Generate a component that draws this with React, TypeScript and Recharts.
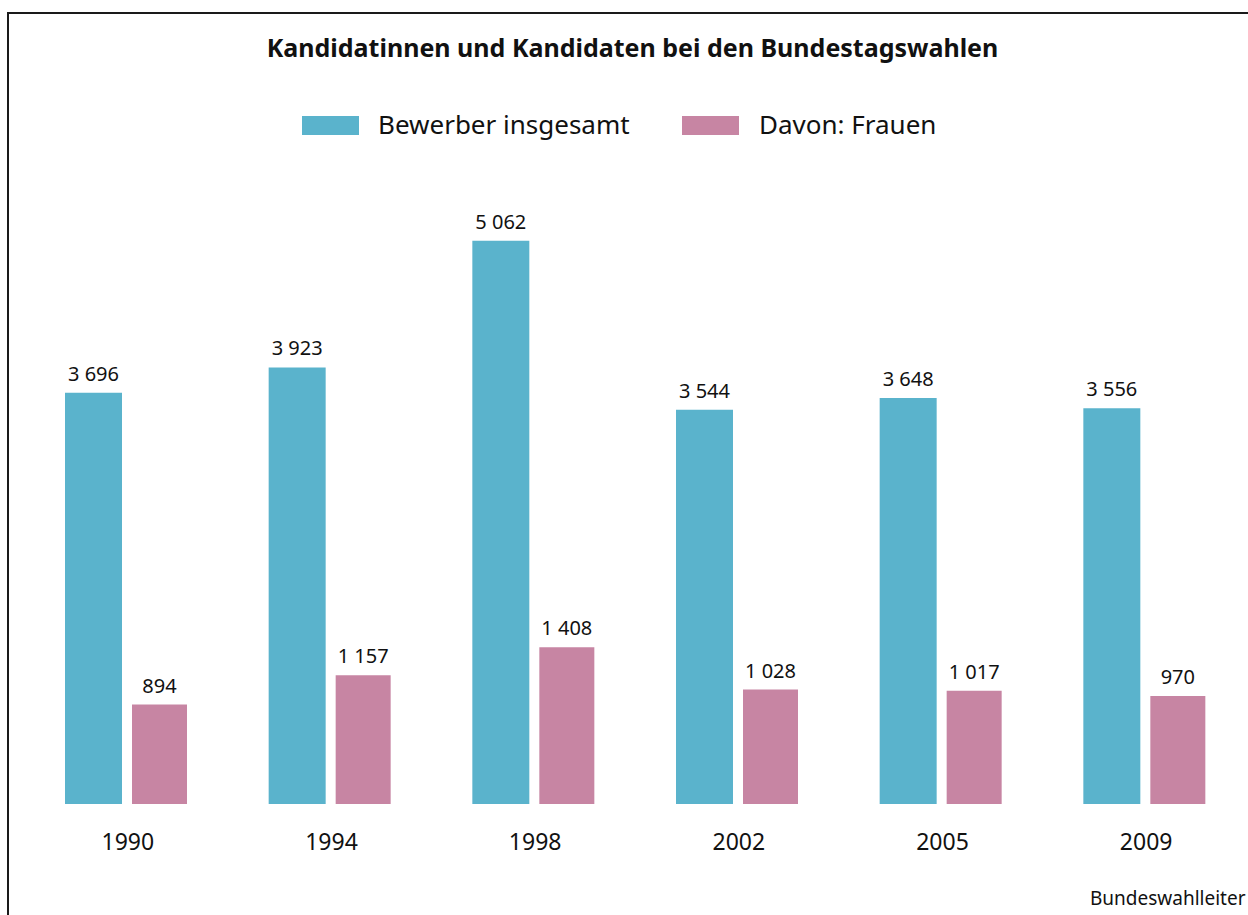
import { BarChart, Bar, XAxis, YAxis, LabelList } from 'recharts';

const years = ['1990', '1994', '1998', '2002', '2005', '2009'];
const bewerber = [3696, 3923, 5062, 3544, 3648, 3556];
const frauen = [894, 1157, 1408, 1028, 1017, 970];

const data = years.map((year, i) => ({
  year,
  bewerber: bewerber[i],
  frauen: frauen[i],
}));

const BLUE = '#5ab3cc';
const PINK = '#c785a3';
const FONT = '"Noto Sans", sans-serif';

const fmt = (v: any) => String(v).replace(/\B(?=(\d{3})+(?!\d))/g, ' ');

export default function App() {
  return (
    <div
      style={{
        position: 'absolute',
        left: 0,
        top: 0,
        width: 1248,
        height: 915,
        overflow: 'hidden',
        background: '#fff',
        fontFamily: FONT,
        color: '#111',
      }}
    >
      <div
        style={{
          position: 'absolute',
          left: 7,
          top: 12,
          width: 1300,
          height: 1000,
          border: '2px solid #1a1a1a',
        }}
      />
      <div
        style={{
          position: 'absolute',
          left: 0,
          top: 35,
          width: 1265,
          textAlign: 'center',
          fontSize: 25,
          lineHeight: 1,
          fontWeight: 700,
        }}
      >
        Kandidatinnen und Kandidaten bei den Bundestagswahlen
      </div>
      <div style={{ position: 'absolute', left: 302, top: 116, width: 57, height: 19, background: BLUE }} />
      <div style={{ position: 'absolute', left: 378, top: 111, fontSize: 26, lineHeight: 1 }}>
        Bewerber insgesamt
      </div>
      <div style={{ position: 'absolute', left: 682, top: 116, width: 57, height: 19, background: PINK }} />
      <div style={{ position: 'absolute', left: 759, top: 111, fontSize: 26, lineHeight: 1 }}>
        Davon: Frauen
      </div>
      <div style={{ position: 'absolute', left: 1090, top: 889, fontSize: 19, lineHeight: 1, whiteSpace: 'nowrap' }}>
        Bundeswahlleiter
      </div>
      <div style={{ position: 'absolute', left: 0, top: 0 }}>
        <BarChart
          width={1248}
          height={915}
          data={data}
          margin={{ top: 192, right: 2, left: 24, bottom: 51 }}
          barGap={10}
        >
          <XAxis
            dataKey="year"
            height={60}
            axisLine={false}
            tickLine={false}
            tickSize={0}
            tickMargin={30}
            tick={{ fontSize: 23, fill: '#111', fontFamily: FONT, dx: 2 }}
          />
          <YAxis hide domain={[0, 5500]} />
          <Bar dataKey="bewerber" fill={BLUE} barSize={57} isAnimationActive={false}>
            <LabelList
              dataKey="bewerber"
              position="top"
              offset={12}
              formatter={fmt}
              style={{ fontSize: 20, fill: '#111', fontFamily: FONT }}
            />
          </Bar>
          <Bar dataKey="frauen" fill={PINK} barSize={55} isAnimationActive={false}>
            <LabelList
              dataKey="frauen"
              position="top"
              offset={12}
              formatter={fmt}
              style={{ fontSize: 20, fill: '#111', fontFamily: FONT }}
            />
          </Bar>
        </BarChart>
      </div>
    </div>
  );
}
